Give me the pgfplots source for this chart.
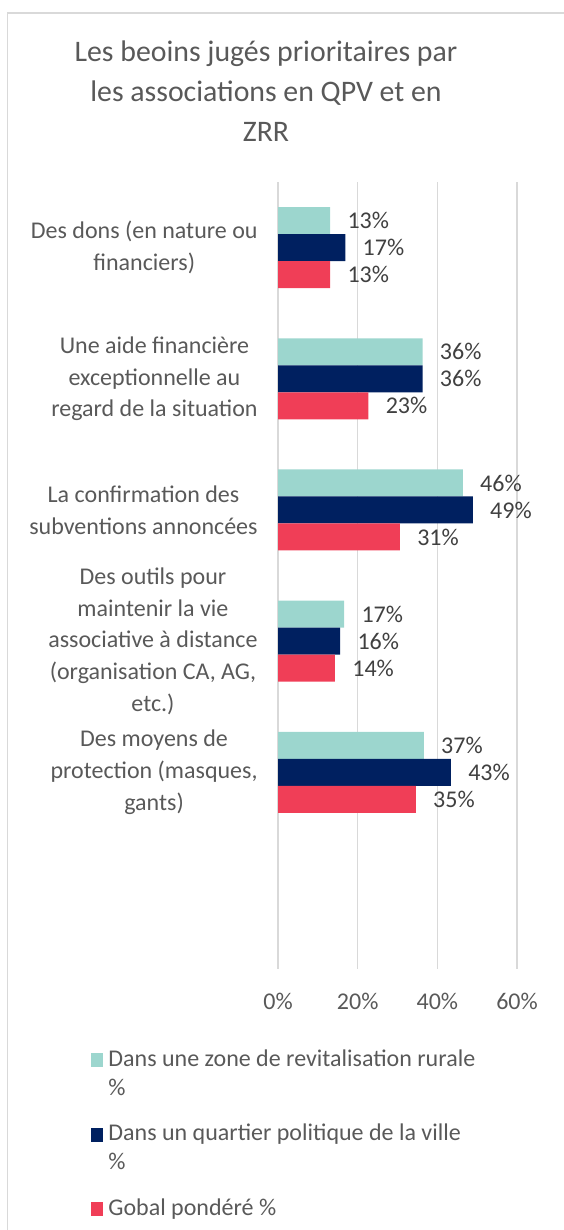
\documentclass[border=0pt]{standalone}
\usepackage{fontspec}
\setmainfont{Carlito}
\usepackage{pgfplots}
\pgfplotsset{compat=1.18}
\definecolor{cteal}{RGB}{156,214,206}
\definecolor{cnavy}{RGB}{0,32,96}
\definecolor{cred}{RGB}{240,62,87}
\definecolor{cgrid}{RGB}{217,217,217}
\definecolor{ctext}{RGB}{89,89,89}
\definecolor{clab}{RGB}{64,64,64}
\begin{document}
\begin{tikzpicture}
\path[use as bounding box] (0,0) rectangle (281.5pt,615pt);
\draw[cgrid, line width=0.7pt] (3.75pt,-2pt) -- (3.75pt,608.5pt) -- (290pt,608.5pt);
\node[align=center, anchor=base, text=ctext, font={\fontsize{14.9}{20}\selectfont}] at (133pt,544pt)
  {Les beoins jugés prioritaires par\\les associations en QPV et en\\ZRR};
\begin{axis}[
  at={(139pt,130.5pt)}, anchor=south west,
  scale only axis, width=119.5pt, height=393.5pt,
  xbar, bar width=13.5pt,
  xmin=0, xmax=60, ymin=-0.5, ymax=5.5, y dir=reverse,
  xtick={0,20,40,60}, xticklabels={0\%,20\%,40\%,60\%},
  ytick={0,1,2,3,4,5},
  yticklabels={{Des dons (en nature ou\\financiers)},
    {Une aide financière\\exceptionnelle au\\regard de la situation},
    {La confirmation des\\subventions annoncées},
    {Des outils pour\\maintenir la vie\\associative à distance\\(organisation CA, AG,\\etc.)},
    {Des moyens de\\protection (masques,\\gants)},{}},
  axis line style={draw=none}, major tick length=0pt,
  xmajorgrids, grid style={cgrid, line width=0.65pt},
  xticklabel style={inner sep=0pt, yshift=-12pt, text=ctext, font={\fontsize{12}{14.5}\selectfont}},
  yticklabel style={align=center, inner sep=0pt, xshift=-10pt, text=ctext, font={\fontsize{12}{15.85}\selectfont}},
  point meta=x,
  nodes near coords={\pgfmathprintnumber[fixed,precision=0,assume math mode=true]{\pgfplotspointmeta}\%},
  nodes near coords style={anchor=west, inner sep=0pt, xshift=8.5pt, text=clab, font={\fontsize{12}{14.5}\selectfont}},
  legend style={at={(-0.7824,-0.0966)}, anchor=north west, draw=none, fill=none, inner sep=0pt,
    row sep=9pt, column sep=0.5pt, text=ctext, font={\fontsize{12}{14.5}\selectfont},
    cells={anchor=base west, align=left, inner sep=0pt}},
]
\addplot[fill=cteal, draw=none, bar shift=13.5pt,
  legend image code/.code={\fill[cteal] (0pt,14pt) rectangle (6pt,21pt);}]
  coordinates {(13.1,0) (36.3,1) (46.4,2) (16.6,3) (36.6,4)};
\addlegendentry{Dans une zone de revitalisation rurale\\\%}
\addplot[fill=cnavy, draw=none, bar shift=0pt,
  legend image code/.code={\fill[cnavy] (0pt,14pt) rectangle (6pt,21pt);}]
  coordinates {(16.9,0) (36.3,1) (48.9,2) (15.6,3) (43.4,4)};
\addlegendentry{Dans un quartier politique de la ville\\\%}
\addplot[fill=cred, draw=none, bar shift=-13.5pt,
  legend image code/.code={\fill[cred] (0pt,-0.5pt) rectangle (6pt,6.5pt);}]
  coordinates {(13.1,0) (22.7,1) (30.6,2) (14.3,3) (34.6,4)};
\addlegendentry{Gobal pondéré \%}
\end{axis}
\end{tikzpicture}
\end{document}
